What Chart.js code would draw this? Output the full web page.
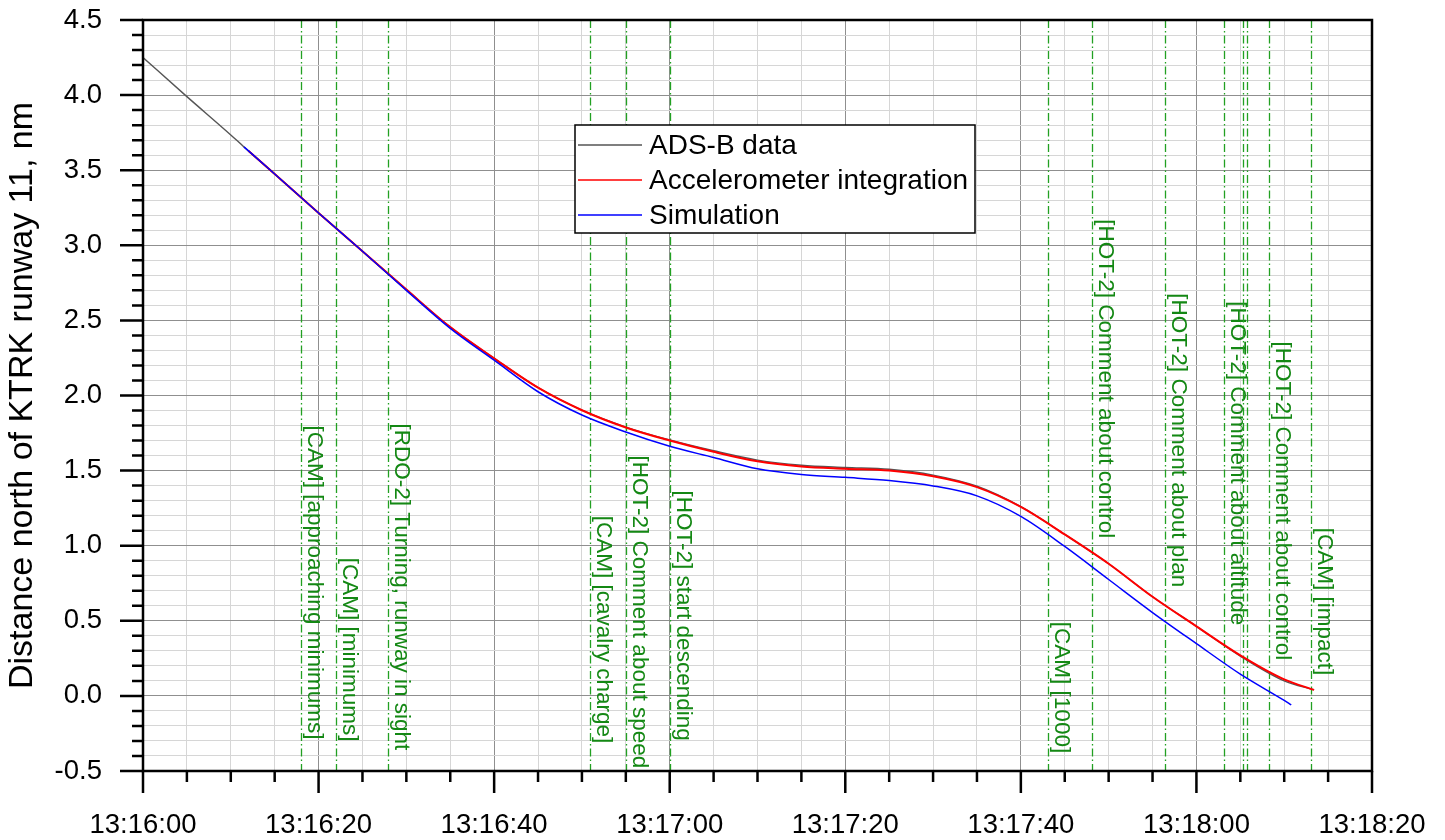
<!DOCTYPE html>
<html>
<head>
<meta charset="utf-8">
<script src="https://cdn.jsdelivr.net/npm/chart.js@4"></script>
<style>
  html, body { margin: 0; padding: 0; background: #fff; }
</style>
</head>
<body>
<canvas id="myChart" width="1445" height="840"></canvas>
<script>
// time is in seconds after 13:16:00, distance in nm
var adsbTime = [0, 5, 10, 11.5, 15, 20, 25, 30, 35, 40, 45, 50, 55, 60, 65, 70, 75, 80, 85, 90, 95, 100, 105, 110, 115, 120, 125, 130, 133.4];
var adsbDist = [4.25, 3.99, 3.735, 3.655, 3.475, 3.215, 2.96, 2.705, 2.455, 2.247, 2.052, 1.902, 1.79, 1.704, 1.632, 1.57, 1.536, 1.521, 1.509, 1.47, 1.396, 1.26, 1.075, 0.88, 0.66, 0.463, 0.265, 0.1, 0.04];

var accelTime = [12, 15, 20, 25, 30, 35, 40, 45, 50, 55, 60, 65, 70, 75, 80, 85, 90, 95, 100, 105, 110, 115, 120, 125, 130, 133.4];
var accelDist = [3.63, 3.475, 3.215, 2.96, 2.705, 2.455, 2.247, 2.052, 1.902, 1.787, 1.70, 1.625, 1.562, 1.527, 1.512, 1.50, 1.462, 1.39, 1.258, 1.075, 0.88, 0.66, 0.463, 0.27, 0.11, 0.04];

var simTime = [11.5, 15, 20, 25, 30, 35, 40, 45, 50, 55, 60, 65, 70, 75, 80, 85, 90, 95, 100, 105, 110, 115, 120, 125, 130, 130.8];
var simDist = [3.655, 3.475, 3.215, 2.96, 2.70, 2.447, 2.235, 2.025, 1.87, 1.757, 1.662, 1.587, 1.512, 1.474, 1.455, 1.434, 1.398, 1.332, 1.195, 0.995, 0.775, 0.555, 0.348, 0.145, -0.03, -0.06];

// voice recorder events
var eventTime = [17.95, 22.0, 27.93, 50.96, 55.05, 59.98, 103.12, 108.13, 116.4, 123.1, 125.25, 125.8, 128.3, 133.0];
var eventText = [
  '[CAM] [approaching minimums]',
  '[CAM] [minimums]',
  '[RDO-2] Turning, runway in sight',
  '[CAM] [cavalry charge]',
  '[HOT-2] Comment about speed',
  '[HOT-2] start descending',
  '[CAM] [1000]',
  '[HOT-2] Comment about control',
  '[HOT-2] Comment about plan',
  '[HOT-2] Comment about altitude',
  '',
  '',
  '[HOT-2] Comment about control',
  '[CAM] [impact]'
];

var clockStart = [13, 16, 0];
var axisTitle = 'Distance north of KTRK runway 11, nm';

var FONT = '"Liberation Sans", Arial, sans-serif';

function pts(t, v) {
  return t.map(function (x, i) { return { x: x, y: v[i] }; });
}
function pad2(n) { return (n < 10 ? '0' : '') + n; }
function clock(s) {
  var total = clockStart[0] * 3600 + clockStart[1] * 60 + clockStart[2] + s;
  var h = Math.floor(total / 3600), m = Math.floor((total % 3600) / 60), sec = Math.round(total % 60);
  return h + ':' + pad2(m) + ':' + pad2(sec);
}
function isMajorY(v) { return Math.abs(v * 2 - Math.round(v * 2)) < 1e-6; }
function isMajorX(v) { return Math.abs(v % 20) < 1e-6; }
function noPad(s) { s.paddingTop = 0; s.paddingBottom = 0; s.paddingLeft = 0; s.paddingRight = 0; }

// where each event label starts (top end of the rotated text), in nm
var labelTop = [1.80, 0.92, 1.813, 1.20, 1.60, 1.367, 0.493, 3.173, 2.68, 2.627, 0, 0, 2.36, 1.12];

var eventLines = {
  id: 'eventLines',
  beforeDatasetsDraw: function (chart) {
    var ctx = chart.ctx, xs = chart.scales.x, ys = chart.scales.y, a = chart.chartArea;
    ctx.save();
    eventTime.forEach(function (t, i) {
      var x = Math.round(xs.getPixelForValue(t)) + 0.5;
      ctx.strokeStyle = '#22a022';
      ctx.lineWidth = 1.3;
      ctx.setLineDash([8, 3, 1.5, 3]);
      ctx.beginPath();
      ctx.moveTo(x, a.top);
      ctx.lineTo(x, a.bottom);
      ctx.stroke();
      if (!eventText[i]) return;
      ctx.save();
      ctx.translate(x + 6, ys.getPixelForValue(labelTop[i]));
      ctx.rotate(Math.PI / 2);
      ctx.fillStyle = '#148814';
      ctx.font = '22.5px ' + FONT;
      ctx.textAlign = 'left';
      ctx.textBaseline = 'alphabetic';
      ctx.fillText(eventText[i], 0, 0);
      ctx.restore();
    });
    ctx.restore();
  }
};

var frameTicks = {
  id: 'frameTicks',
  afterDraw: function (chart) {
    var ctx = chart.ctx, a = chart.chartArea, xs = chart.scales.x, ys = chart.scales.y;
    ctx.save();
    ctx.setLineDash([]);
    ctx.strokeStyle = '#000';
    ctx.lineWidth = 2.5;
    ctx.strokeRect(a.left, a.top, a.right - a.left, a.bottom - a.top);
    ctx.beginPath();
    xs.ticks.forEach(function (t) {
      var x = xs.getPixelForValue(t.value);
      var len = isMajorX(t.value) ? 22 : 11;
      ctx.moveTo(x, a.bottom);
      ctx.lineTo(x, a.bottom + len);
    });
    ys.ticks.forEach(function (t) {
      var y = ys.getPixelForValue(t.value);
      var len = isMajorY(t.value) ? 23 : 11;
      ctx.moveTo(a.left, y);
      ctx.lineTo(a.left - len, y);
    });
    ctx.stroke();
    ctx.restore();
  }
};

var boxLegend = {
  id: 'boxLegend',
  afterDraw: function (chart) {
    var ctx = chart.ctx;
    var bx = 575, by = 125, bw = 400, bh = 108;
    ctx.save();
    ctx.fillStyle = '#fff';
    ctx.fillRect(bx, by, bw, bh);
    ctx.strokeStyle = '#000';
    ctx.lineWidth = 1.5;
    ctx.strokeRect(bx, by, bw, bh);
    ctx.font = '28px ' + FONT;
    ctx.textBaseline = 'middle';
    ctx.textAlign = 'left';
    chart.data.datasets.forEach(function (ds, i) {
      var y = by + 20 + i * 35;
      ctx.strokeStyle = ds.borderColor;
      ctx.lineWidth = 1.5;
      ctx.beginPath();
      ctx.moveTo(bx + 3, y);
      ctx.lineTo(bx + 67, y);
      ctx.stroke();
      ctx.fillStyle = '#000';
      ctx.fillText(ds.label, bx + 74, y + 1);
    });
    ctx.restore();
  }
};

var ctx = document.getElementById('myChart').getContext('2d');

var myChart = new Chart(ctx, {
  type: 'line',
  data: {
    datasets: [{
      label: 'ADS-B data',
      data: pts(adsbTime, adsbDist),
      borderColor: '#555555',
      borderWidth: 1.4,
      order: 2
    }, {
      label: 'Accelerometer integration',
      data: pts(accelTime, accelDist),
      borderColor: '#ff0000',
      borderWidth: 2,
      order: 1
    }, {
      label: 'Simulation',
      data: pts(simTime, simDist),
      borderColor: '#0000ff',
      borderWidth: 1.5,
      order: 0
    }]
  },
  options: {
    responsive: false,
    animation: false,
    elements: {
      point: { radius: 0 },
      line: { cubicInterpolationMode: 'monotone', fill: false }
    },
    layout: { padding: { top: 20, right: 73, left: 0, bottom: 0 } },
    plugins: {
      legend: { display: false },
      tooltip: { enabled: false }
    },
    scales: {
      x: {
        type: 'linear',
        min: 0,
        max: 140,
        afterFit: function (s) { s.height = 69; noPad(s); },
        border: { display: false },
        grid: {
          drawTicks: false,
          color: function (c) { return isMajorX(c.tick.value) ? '#8f8f8f' : '#d6d6d6'; },
          lineWidth: 1
        },
        ticks: {
          stepSize: 5,
          autoSkip: false,
          maxRotation: 0,
          padding: 38,
          color: '#000',
          font: { family: FONT, size: 27.5 },
          callback: function (v) { return isMajorX(v) ? clock(v) : ''; }
        }
      },
      y: {
        min: -0.5,
        max: 4.5,
        afterFit: function (s) { s.width = 143; noPad(s); },
        border: { display: false },
        grid: {
          drawTicks: false,
          color: function (c) { return isMajorY(c.tick.value) ? '#8f8f8f' : '#d6d6d6'; },
          lineWidth: 1
        },
        ticks: {
          stepSize: 0.1,
          autoSkip: false,
          padding: 41,
          color: '#000',
          font: { family: FONT, size: 27.5 },
          callback: function (v) { return isMajorY(v) ? v.toFixed(1) : ''; }
        },
        title: {
          display: true,
          text: axisTitle,
          color: '#000',
          font: { family: FONT, size: 34 },
          padding: { top: 2, bottom: 0 }
        }
      }
    }
  },
  plugins: [eventLines, frameTicks, boxLegend]
});
</script>
</body>
</html>
